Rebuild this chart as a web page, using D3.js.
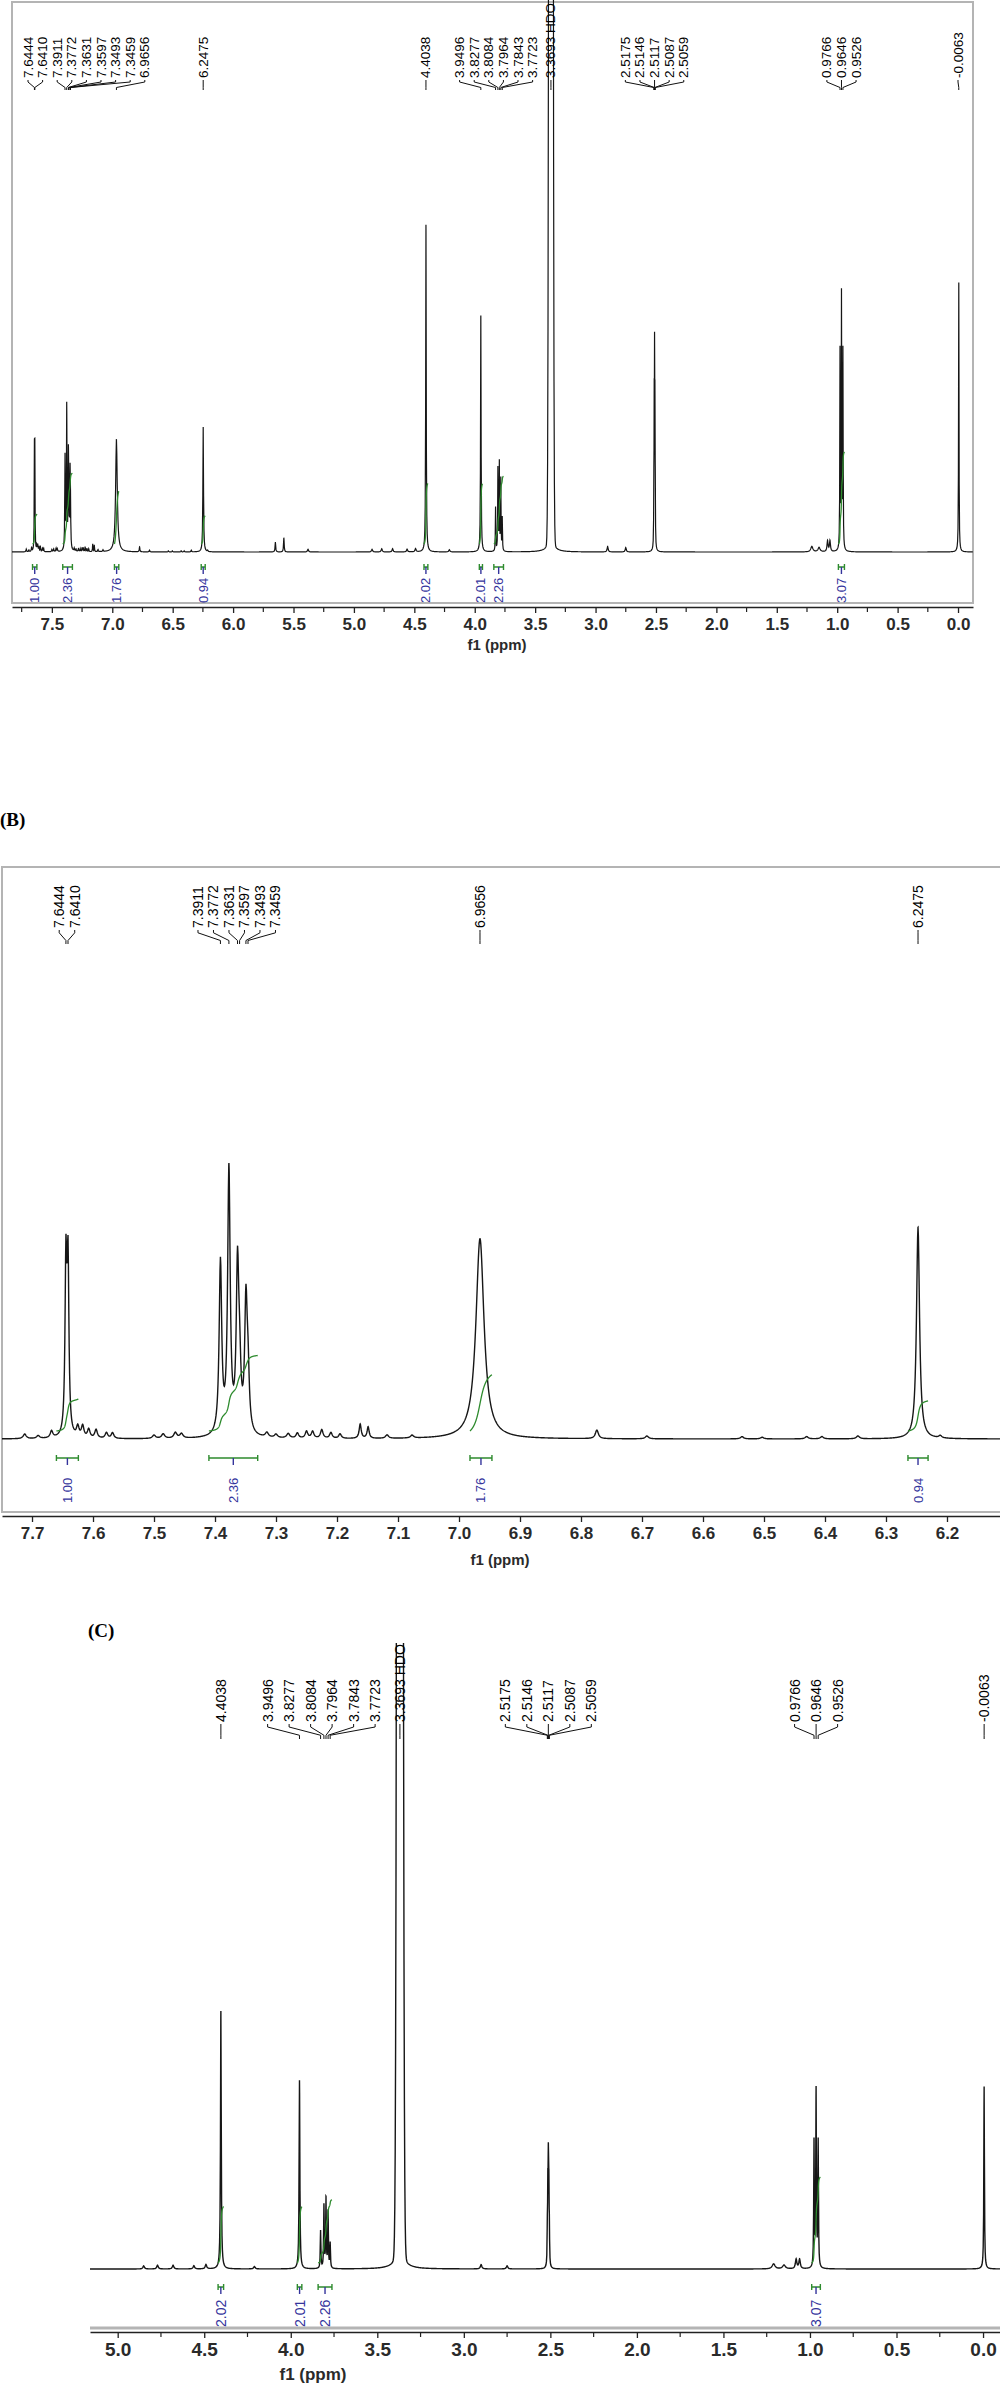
<!DOCTYPE html>
<html><head><meta charset="utf-8">
<script src="https://cdn.jsdelivr.net/npm/d3@7"></script>
<style>
body{margin:0;background:#fff;}
svg{display:block;font-family:"Liberation Sans",Arial,sans-serif;}
</style></head><body>
<svg id="c" width="1000" height="2384"></svg>
<script>
// ================= DATA =================
// main resonances: chemical shift (ppm), line width (FWHM, ppm), line shape, displayed height per panel (% of plot height)
const mainPPM   = [7.6444,7.6410,7.3911,7.3772,7.3631,7.3597,7.3493,7.3459,6.9656,6.2475,4.4038,3.9496,3.8277,3.8084,3.7964,3.7843,3.7723,3.3693,2.5175,2.5146,2.5117,2.5087,2.5059,0.9766,0.9646,0.9526,-0.0063];
const mainFWHM  = [0.0035,0.0035,0.005,0.005,0.005,0.005,0.005,0.005,0.016,0.006,0.005,0.005,0.004,0.004,0.004,0.004,0.004,0.0225,0.003,0.003,0.003,0.003,0.003,0.004,0.004,0.004,0.004];
const mainShape = ["L","L","L","L","L","L","L","L","L","L","L","L","L","L","L","L","L","G","L","L","L","L","L","L","L","L","L"];
const mainA     = [17,17,17,26,16,6,13,6,20.5,22.7,59.5,43,8,15,16,13,6,1000,8,22,30,22,8,36,46,36,49];
const mainB     = [29.4,29.4,30,46,28,9,22,9,35,37,0,0,0,0,0,0,0,0,0,0,0,0,0,0,0,0,0];
const mainC     = [0,0,0,0,0,0,0,0,0,0,41,30,6,10,11,9,4,1000,5,11,15,11,5,20,28,20,29];
// minor signals / impurities / broad base of HDO
const minorPPM  = [7.712,7.69,7.668,7.625,7.617,7.607,7.595,7.578,7.568,7.50,7.485,7.465,7.455,7.315,7.30,7.28,7.265,7.25,7.24,7.225,7.21,7.195,7.162,7.149,7.118,7.077,6.774,6.692,6.536,6.503,6.43,6.405,6.346,6.211,5.65,5.58,5.38,4.85,4.77,4.68,4.56,4.49,4.21,3.37,2.90,2.75,1.21,1.15,1.08,1.06];
const minorFWHM = [0.006,0.006,0.005,0.005,0.005,0.005,0.005,0.005,0.005,0.006,0.006,0.006,0.006,0.006,0.006,0.006,0.005,0.005,0.005,0.005,0.005,0.005,0.004,0.004,0.006,0.006,0.006,0.006,0.006,0.006,0.006,0.006,0.006,0.006,0.006,0.006,0.01,0.01,0.01,0.01,0.01,0.01,0.01,0.07,0.01,0.01,0.02,0.02,0.01,0.01];
const minorA    = [0.5,0.3,0.7,1.0,1.2,0.9,0.9,0.6,0.6,0.4,0.5,0.6,0.5,0.5,0.4,0.5,0.5,0.7,0.7,0.9,0.6,0.5,1.4,1.2,0.4,0.3,0.9,0.3,0.2,0.2,0.2,0.2,0.3,0.2,1.8,2.6,0.5,0.5,0.6,0.6,0.5,0.6,0.4,2.0,1.0,0.8,1.0,0.8,2.0,2.0];
const minorB    = [0.8,0.5,1.2,1.8,2.0,1.5,1.5,1.0,1.0,0.6,0.8,1.0,0.8,0.8,0.6,0.8,0.9,1.2,1.2,1.5,1.0,0.8,2.5,2.0,0.6,0.5,1.5,0.5,0.4,0.3,0.4,0.4,0.5,0.4,0,0,0,0,0,0,0,0,0,0,0,0,0,0,0,0];
const minorC    = [0,0,0,0,0,0,0,0,0,0,0,0,0,0,0,0,0,0,0,0,0,0,0,0,0,0,0,0,0,0,0,0,0,0,0,0,0,0.5,0.6,0.6,0.5,0.7,0.4,2.5,0.7,0.5,0.8,0.6,1.5,1.5];

// peak-pick labels
const labelsA = ["7.6444","7.6410","7.3911","7.3772","7.3631","7.3597","7.3493","7.3459","6.9656","6.2475","4.4038","3.9496","3.8277","3.8084","3.7964","3.7843","3.7723","3.3693 HDO","2.5175","2.5146","2.5117","2.5087","2.5059","0.9766","0.9646","0.9526","-0.0063"];
const labelsB = ["7.6444","7.6410","7.3911","7.3772","7.3631","7.3597","7.3493","7.3459","6.9656","6.2475"];
const labelsC = ["4.4038","3.9496","3.8277","3.8084","3.7964","3.7843","3.7723","3.3693 HDO","2.5175","2.5146","2.5117","2.5087","2.5059","0.9766","0.9646","0.9526","-0.0063"];

// integrations: range start / end (ppm) and normalised value
const intFrom  = [7.660,7.410,6.982,6.264,4.420,3.962,3.842,0.990];
const intTo    = [7.624,7.330,6.946,6.231,4.388,3.936,3.762,0.940];
const intValue = ["1.00","2.36","1.76","0.94","2.02","2.01","2.26","3.07"];

// axis ticks
const ticksA = [7.5,7.0,6.5,6.0,5.5,5.0,4.5,4.0,3.5,3.0,2.5,2.0,1.5,1.0,0.5,0.0];
const minorTicksA = [7.75,7.25,6.75,6.25,5.75,5.25,4.75,4.25,3.75,3.25,2.75,2.25,1.75,1.25,0.75,0.25];
const ticksB = [7.7,7.6,7.5,7.4,7.3,7.2,7.1,7.0,6.9,6.8,6.7,6.6,6.5,6.4,6.3,6.2];
const minorTicksB = [];
const ticksC = [5.0,4.5,4.0,3.5,3.0,2.5,2.0,1.5,1.0,0.5,0.0];
const minorTicksC = [4.75,4.25,3.75,3.25,2.75,2.25,1.75,1.25,0.75,0.25];

// ================= DRAWING =================
const svg = d3.select("#c");
const defs = svg.append("defs");
const GREEN = "#2e8b2e", BLUE = "#34349c";
const LN2x4 = 4*Math.LN2;

function spread(anchors, gap, lo, hi){
  const stack=[];
  anchors.forEach(a=>{
    stack.push({sum:a,n:1,start:Math.max(lo,Math.min(hi,a))});
    while(stack.length>1){
      const c2=stack[stack.length-1], c1=stack[stack.length-2];
      if(c1.start+c1.n*gap>c2.start){
        const m={sum:c1.sum+c2.sum,n:c1.n+c2.n};
        m.start=m.sum/m.n-(m.n-1)*gap/2;
        m.start=Math.max(lo,Math.min(hi-(m.n-1)*gap,m.start));
        stack.pop();stack.pop();stack.push(m);
      } else break;
    }
  });
  const out=[];
  stack.forEach(c=>{for(let k=0;k<c.n;k++) out.push(c.start+k*gap);});
  return out;
}

function drawPanel(cfg, id){
  const g = svg.append("g");
  const xs = cfg.xs, ys = cfg.ys;
  const [r0,r1] = xs.range();
  const [dHi,dLo] = xs.domain();
  const intensity = p => {
    let s=0;
    for(let i=0;i<mainPPM.length;i++){ const h=cfg.main[i]; if(!h) continue;
      const dd=(p-mainPPM[i])/mainFWHM[i];
      s+= mainShape[i]==="G" ? h*Math.exp(-LN2x4*dd*dd) : h/(1+4*dd*dd); }
    for(let i=0;i<minorPPM.length;i++){ const h=cfg.minor[i]; if(!h) continue;
      const d=(p-minorPPM[i])/(minorFWHM[i]/2); s+=h/(1+d*d); }
    return s;
  };
  if(cfg.frame) cfg.frame(g);
  defs.append("clipPath").attr("id","clip"+id).append("rect")
    .attr("x",cfg.clip[0]).attr("y",cfg.clip[1]).attr("width",cfg.clip[2]).attr("height",cfg.clip[3]);
  let ppms=[];
  for(let px=r0; px<=r1; px+=0.4) ppms.push(xs.invert(px));
  mainPPM.concat(minorPPM).forEach(p=>{ if(p<=dHi && p>=dLo) ppms.push(p); });
  ppms.sort((a,b)=>b-a);
  const pts = ppms.map(p=>({p, v:Math.min(intensity(p),400)}));
  g.append("path").attr("clip-path",`url(#clip${id})`)
    .attr("d", d3.line().x(d=>xs(d.p)).y(d=>ys(d.v))(pts))
    .attr("fill","none").attr("stroke","#161616").attr("stroke-width",cfg.lw||1.2);

  intFrom.forEach((fr,i)=>{
    const to=intTo[i];
    if(fr>dHi || to<dLo) return;
    const n=300, arr=[]; let cum=0, prev=intensity(fr);
    arr.push({p:fr,c:0});
    for(let k=1;k<=n;k++){ const p=fr+(to-fr)*k/n; const v=intensity(p); cum+=(v+prev)/2; prev=v; arr.push({p,c:cum}); }
    const val=+intValue[i];
    g.append("path").attr("clip-path",`url(#clip${id})`)
      .attr("d", d3.line().x(d=>xs(d.p)).y(d=>cfg.baseY - cfg.intOff - d.c/cum*val*cfg.intK)(arr))
      .attr("fill","none").attr("stroke",GREEN).attr("stroke-width",1.3);
    const xa=xs(fr), xb=xs(to), xm=(xa+xb)/2, yb=cfg.intBracketY;
    g.append("path").attr("d",`M${xa},${yb-3}V${yb+3}M${xa},${yb}H${xb}M${xb},${yb-3}V${yb+3}`)
      .attr("stroke",GREEN).attr("stroke-width",1.4).attr("fill","none");
    g.append("path").attr("d",`M${xm},${yb}V${yb+7}`).attr("stroke",BLUE).attr("stroke-width",1.4);
    g.append("text").attr("transform",`translate(${xm},${cfg.intLabelBottom}) rotate(-90)`)
      .attr("text-anchor","start").attr("dominant-baseline","central")
      .attr("font-size",cfg.intFont).attr("fill",BLUE).text(intValue[i]);
  });

  const anchors = cfg.labels.map(s=>xs(parseFloat(s)));
  const lx = spread(anchors, cfg.gap, cfg.lo, cfg.hi);
  const yb = cfg.labelBottom, L=cfg.leader;
  cfg.labels.forEach((s,i)=>{
    g.append("text").attr("transform",`translate(${lx[i]},${yb}) rotate(-90)`)
      .attr("text-anchor","start").attr("dominant-baseline","central")
      .attr("font-size",cfg.labelFont).attr("fill","#000").text(s);
    const px=anchors[i];
    g.append("path").attr("d",`M${lx[i]},${yb+2}V${yb+2+L*0.2}L${px},${yb+2+L*0.75}V${yb+2+L}`)
      .attr("fill","none").attr("stroke","#111").attr("stroke-width",1);
  });

  const ax = d3.axisBottom(xs).tickValues(cfg.ticks).tickFormat(d3.format(".1f")).tickSize(6).tickSizeOuter(0).tickPadding(5);
  const ag = g.append("g").attr("transform",`translate(0,${cfg.axisY})`).call(ax);
  ag.select(".domain").attr("stroke","#222").attr("stroke-width",1.6);
  ag.selectAll(".tick line").attr("stroke","#222").attr("stroke-width",1.3);
  ag.selectAll(".tick text").attr("font-size",cfg.tickFont).attr("fill","#2a2a2a")
    .attr("font-family","'Liberation Sans',Arial,sans-serif").attr("font-weight","bold");
  ag.selectAll(".minor").data(cfg.minorTicks).enter().append("line")
    .attr("x1",d=>xs(d)).attr("x2",d=>xs(d)).attr("y1",0).attr("y2",5)
    .attr("stroke","#222").attr("stroke-width",1.2);
  g.append("text").attr("x",cfg.f1X).attr("y",cfg.f1Y).attr("text-anchor","middle")
    .attr("font-size",cfg.f1Font).attr("font-weight","bold").attr("fill","#2a2a2a").text("f1 (ppm)");
}

drawPanel({
  xs: d3.scaleLinear().domain([7.83,-0.124]).range([12,973]),
  ys: d3.scaleLinear().domain([0,100]).range([552,2]),
  baseY:552, clip:[12,0,961,603],
  main: mainA, minor: minorA,
  frame: g=>g.append("rect").attr("x",12).attr("y",2).attr("width",961).attr("height",601)
            .attr("fill","none").attr("stroke","#b4b4b4").attr("stroke-width",2),
  intK:30, intOff:8, intBracketY:567, intLabelBottom:603, intFont:13,
  labels: labelsA, gap:14.6, lo:28, hi:958, labelBottom:78, leader:10, labelFont:13.5,
  ticks: ticksA, minorTicks: minorTicksA, axisY:607, tickFont:17,
  f1X:497, f1Y:650, f1Font:15
},"A");

svg.append("text").attr("x",0).attr("y",826).attr("font-family","'Liberation Serif','Times New Roman',serif")
  .attr("font-weight","bold").attr("font-size",19).text("(B)");
drawPanel({
  xs: d3.scaleLinear().domain([7.7492,6.1131]).range([2,1000]),
  ys: d3.scaleLinear().domain([0,100]).range([1439,867]),
  baseY:1439, clip:[2,860,998,645],
  main: mainB, minor: minorB, lw:1.4,
  frame: g=>g.append("path").attr("d","M1000,867H2V1512H1000").attr("fill","none").attr("stroke","#b4b4b4").attr("stroke-width",2),
  intK:32, intOff:8, intBracketY:1458, intLabelBottom:1503, intFont:13,
  labels: labelsB, gap:15.5, lo:20, hi:985, labelBottom:928, leader:14, labelFont:14,
  ticks: ticksB, minorTicks: minorTicksB, axisY:1516, tickFont:17,
  f1X:500, f1Y:1565, f1Font:15
},"B");

svg.append("text").attr("x",88).attr("y",1637).attr("font-family","'Liberation Serif','Times New Roman',serif")
  .attr("font-weight","bold").attr("font-size",19).text("(C)");
drawPanel({
  xs: d3.scaleLinear().domain([5.16,-0.098]).range([90,1000]),
  ys: d3.scaleLinear().domain([0,100]).range([2269,1640]),
  baseY:2269, clip:[90,1643,910,690],
  main: mainC, minor: minorC, lw:1.4,
  frame: g=>g.append("path").attr("d","M90,2328H1000").attr("fill","none").attr("stroke","#b4b4b4").attr("stroke-width",3),
  intK:28, intOff:6, intBracketY:2287, intLabelBottom:2327, intFont:14,
  labels: labelsC, gap:21.5, lo:100, hi:985, labelBottom:1722, leader:15, labelFont:14,
  ticks: ticksC, minorTicks: minorTicksC, axisY:2332, tickFont:19,
  f1X:313, f1Y:2380, f1Font:17
},"C");
</script>
</body></html>
